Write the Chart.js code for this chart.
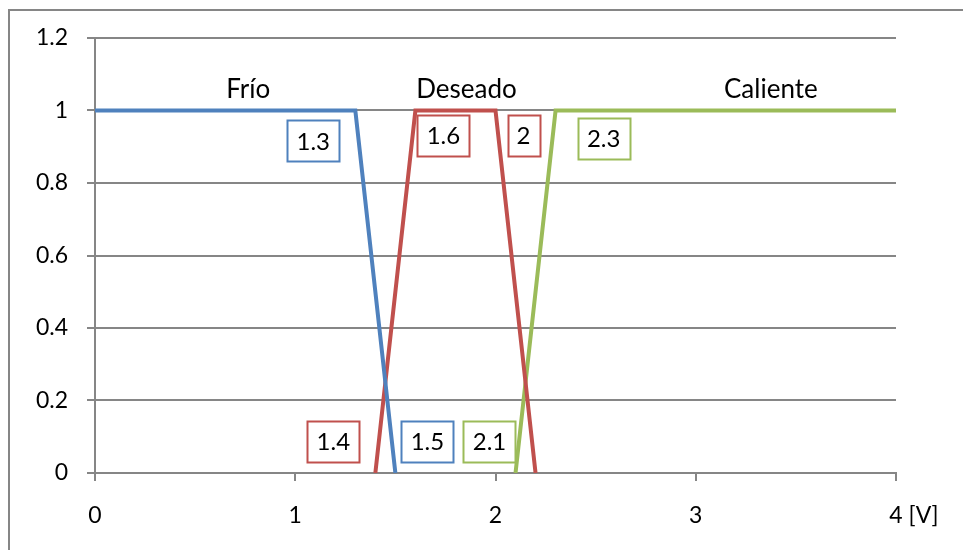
<!DOCTYPE html>
<html>
<head>
<meta charset="utf-8">
<script src="https://cdn.jsdelivr.net/npm/chart.js@4"></script>
<style>
  html, body { margin: 0; padding: 0; background: #fff; }
  #wrap { width: 963px; height: 550px; }
</style>
</head>
<body>
<div id="wrap"><canvas id="grafico"></canvas></div>
<script>
// Funciones de pertenencia (puntos de quiebre)
const nombres = ['Frío', 'Deseado', 'Caliente'];
const xFrio = [0, 1.3, 1.5];
const yFrio = [1, 1, 0];
const xDeseado = [1.4, 1.6, 2, 2.2];
const yDeseado = [0, 1, 1, 0];
const xCaliente = [2.1, 2.3, 4];
const yCaliente = [0, 1, 1];
const colores = ['#4F81BD', '#C0504D', '#9BBB59'];

const yTicks = [0, 0.2, 0.4, 0.6, 0.8, 1, 1.2];
const xTicks = [0, 1, 2, 3, 4];
const unidad = '[V]';

// etiquetas con recuadro: serie, indice del punto y posicion (en unidades de los ejes)
const cajas = [
  { serie: 0, punto: 1, x: 1.09, y: 0.916 },
  { serie: 0, punto: 2, x: 1.66, y: 0.087 },
  { serie: 1, punto: 0, x: 1.19, y: 0.087 },
  { serie: 1, punto: 1, x: 1.74, y: 0.932 },
  { serie: 1, punto: 2, x: 2.14, y: 0.931 },
  { serie: 2, punto: 0, x: 1.97, y: 0.087 },
  { serie: 2, punto: 1, x: 2.54, y: 0.924 }
];
const titulos = [
  { x: 0.765, y: 1.059 },
  { x: 1.855, y: 1.059 },
  { x: 3.375, y: 1.057 }
];

const xs = [xFrio, xDeseado, xCaliente];
const ys = [yFrio, yDeseado, yCaliente];
const FUENTE = 'Lato, "Open Sans", sans-serif';
const gris = '#868686';

const anotaciones = {
  id: 'anotaciones',
  afterDatasetsDraw(chart) {
    const { ctx, scales: { x, y } } = chart;
    ctx.save();
    ctx.textAlign = 'center';
    ctx.textBaseline = 'middle';
    ctx.fillStyle = '#000';
    ctx.font = '26px ' + FUENTE;
    titulos.forEach((t, i) => {
      ctx.fillText(nombres[i], x.getPixelForValue(t.x), y.getPixelForValue(t.y));
    });
    ctx.font = '24px ' + FUENTE;
    cajas.forEach(c => {
      const txt = String(xs[c.serie][c.punto]);
      const cx = x.getPixelForValue(c.x);
      const cy = y.getPixelForValue(c.y);
      const w = Math.round(ctx.measureText(txt).width + 18);
      const h = 41;
      const bx = Math.round(cx - w / 2) + 0.5;
      const by = Math.round(cy - h / 2) + 0.5;
      ctx.fillStyle = '#fff';
      ctx.fillRect(bx, by, w, h);
      ctx.strokeStyle = colores[c.serie];
      ctx.lineWidth = 2;
      ctx.strokeRect(bx, by, w, h);
      ctx.fillStyle = '#000';
      ctx.fillText(txt, cx, cy + 1);
    });
    ctx.restore();
  },
  afterDraw(chart) {
    const { ctx, scales: { x } } = chart;
    ctx.save();
    // marco exterior
    ctx.strokeStyle = gris;
    ctx.lineWidth = 2;
    ctx.beginPath();
    ctx.moveTo(9, 550);
    ctx.lineTo(9, 10);
    ctx.lineTo(963, 10);
    ctx.stroke();
    // unidad del eje x
    ctx.font = '23px ' + FUENTE;
    ctx.fillStyle = '#000';
    ctx.textBaseline = 'middle';
    ctx.textAlign = 'left';
    const px = x.getPixelForValue(xTicks[xTicks.length - 1]);
    const w4 = ctx.measureText(String(xTicks[xTicks.length - 1])).width;
    ctx.fillText(unidad, px + w4 / 2 + ctx.measureText(' ').width, 516);
    ctx.restore();
  }
};

const datasets = nombres.map((n, i) => ({
  label: n,
  data: xs[i].map((v, k) => ({ x: v, y: ys[i][k] })),
  borderColor: colores[i],
  borderWidth: 4,
  borderJoinStyle: 'miter',
  pointRadius: 0,
  tension: 0,
  fill: false
}));

new Chart(document.getElementById('grafico'), {
  type: 'line',
  data: { datasets },
  options: {
    responsive: true,
    maintainAspectRatio: false,
    animation: false,
    layout: { padding: { left: 0, top: 38, right: 67, bottom: 0 } },
    plugins: {
      legend: { display: false },
      tooltip: { enabled: false }
    },
    scales: {
      x: {
        type: 'linear',
        min: 0,
        max: 4,
        afterFit: s => { s.height = 77; },
        afterBuildTicks: s => { s.ticks = xTicks.map(v => ({ value: v })); },
        ticks: { color: '#000', font: { family: FUENTE, size: 23 }, padding: 21, maxRotation: 0 },
        grid: { drawOnChartArea: false, drawTicks: true, tickLength: 8, color: gris, lineWidth: 2 },
        border: { color: gris, width: 2 }
      },
      y: {
        min: 0,
        max: 1.2,
        afterFit: s => { s.width = 95; },
        afterBuildTicks: s => { s.ticks = yTicks.map(v => ({ value: v })); },
        ticks: { color: '#000', font: { family: FUENTE, size: 23 }, padding: 19, callback: v => String(v) },
        grid: { color: gris, lineWidth: 2, tickLength: 8 },
        border: { color: gris, width: 2 }
      }
    }
  },
  plugins: [anotaciones]
});
</script>
</body>
</html>
